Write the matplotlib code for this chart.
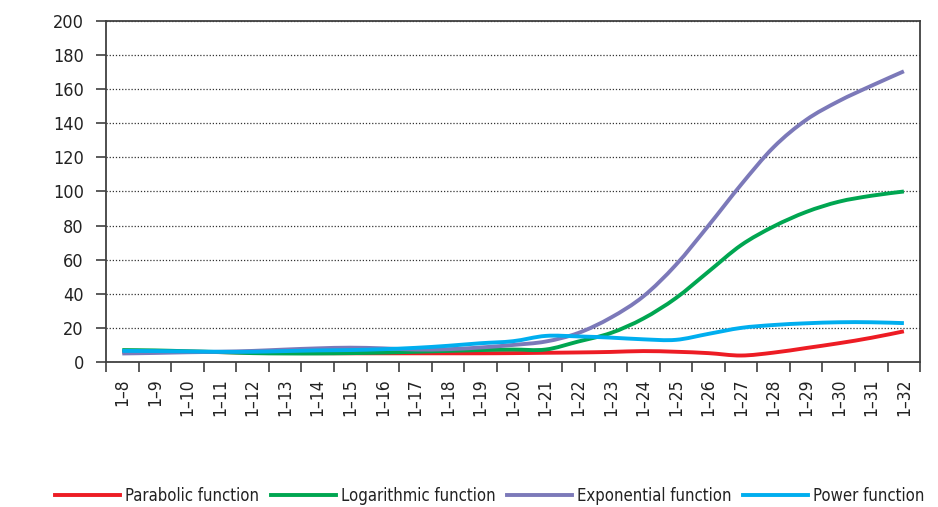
import numpy as np
import matplotlib
matplotlib.use("Agg")
import matplotlib.pyplot as plt
from matplotlib.path import Path
from matplotlib.patches import PathPatch
from matplotlib.lines import Line2D

categories = ["1–%d" % d for d in range(8, 33)]

parabolic = [6, 6, 6, 5.8, 5.5, 5.3, 5.2, 5.1, 5.1, 5.1, 5.1, 5.1, 5.2, 5.4, 5.6, 5.9,
             6.4, 6, 5.2, 3.8, 5.5, 8.2, 11, 14.2, 18]
logarithmic = [7, 6.8, 6.3, 5.8, 5.2, 5, 5, 5.2, 5.5, 6, 6.5, 7, 7.3, 7.3, 12, 17,
               25.5, 37.5, 53, 68.5, 79.5, 88, 94, 97.5, 100]
exponential = [5, 5.3, 5.7, 6, 6.5, 7.3, 8, 8.4, 8, 7.3, 7.5, 8.5, 10, 12, 17, 26,
               38.5, 57, 80, 104, 126, 142, 153, 162, 170.5]
power = [6.5, 6.4, 6.2, 6, 6, 6.4, 6.8, 7, 7.5, 8.3, 9.5, 11, 12.2, 15.3, 15, 14.3,
         13.3, 13, 16.5, 20, 21.7, 22.7, 23.3, 23.3, 22.8]

series = [
    ("Parabolic function", parabolic, "#ED1C24"),
    ("Logarithmic function", logarithmic, "#00A651"),
    ("Exponential function", exponential, "#7C79B9"),
    ("Power function", power, "#00AEEF"),
]

plt.rcParams['font.family'] = ['DejaVu Sans']
plt.rcParams['font.stretch'] = 'condensed'

fig = plt.figure(figsize=(9.38, 5.07), dpi=100)
ax = fig.add_axes([0.113, 0.286, 0.868, 0.6726])


def smooth_path(xs, ys, t=1/6):
    # cubic Bezier (Catmull-Rom style) through the data points
    xs = np.asarray(xs, float)
    ys = np.asarray(ys, float)
    n = len(xs)
    verts = [(xs[0], ys[0])]
    codes = [Path.MOVETO]
    for i in range(n - 1):
        p0 = i - 1 if i > 0 else i
        p3 = i + 2 if i + 2 < n else i + 1
        c1 = (xs[i] + (xs[i + 1] - xs[p0]) * t, ys[i] + (ys[i + 1] - ys[p0]) * t)
        c2 = (xs[i + 1] - (xs[p3] - xs[i]) * t, ys[i + 1] - (ys[p3] - ys[i]) * t)
        verts += [c1, c2, (xs[i + 1], ys[i + 1])]
        codes += [Path.CURVE4] * 3
    return Path(verts, codes)


x = np.arange(len(categories))
handles = []
for name, vals, color in series:
    patch = PathPatch(smooth_path(x, vals), facecolor='none', edgecolor=color,
                      lw=2.8, capstyle='butt', zorder=3)
    ax.add_patch(patch)
    handles.append(Line2D([], [], color=color, lw=2.8, label=name))

ax.set_xlim(-0.5, len(categories) - 0.5)
ax.set_ylim(0, 200)
ax.set_yticks(np.arange(0, 201, 20))
ax.set_xticks(x)
ax.set_xticklabels(categories, rotation=90)
ax.set_xticks(np.arange(-0.5, len(categories), 1.0), minor=True)
ax.tick_params(axis='x', which='major', length=0, pad=12, labelsize=12.5, colors='#222222')
ax.tick_params(axis='x', which='minor', length=7, width=1.2, color='#404040', direction='out')
ax.tick_params(axis='y', which='major', length=7, width=1.2, color='#404040', direction='out',
               labelsize=13, labelcolor='#222222', pad=9)
ax.grid(axis='y', linestyle=(0, (1, 1.5)), color='#333333', lw=0.9)
ax.set_axisbelow(True)
for s in ax.spines.values():
    s.set_color('#404040')
    s.set_linewidth(1.3)

fig.legend(handles=handles, loc='center', bbox_to_anchor=(0.522, 0.022), ncol=4,
           frameon=False, fontsize=12, handlelength=3.9, handletextpad=0.3,
           columnspacing=0.7, labelcolor='#222222')

fig.savefig("out.png", dpi=100)
